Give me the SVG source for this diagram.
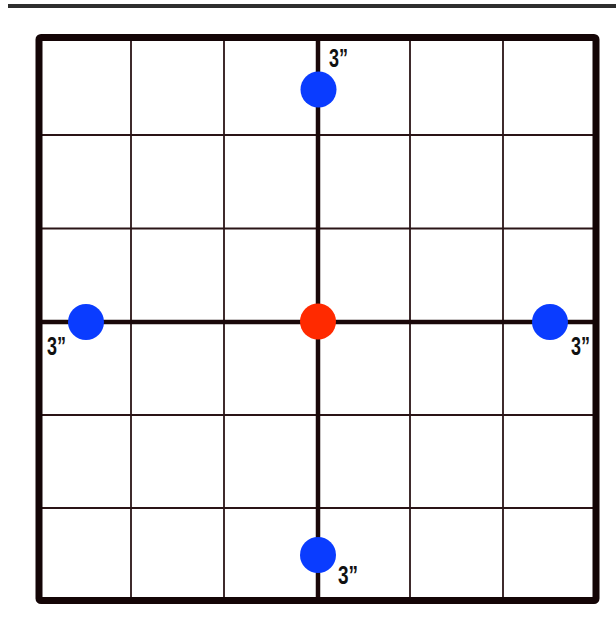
<svg xmlns="http://www.w3.org/2000/svg" width="616" height="631" viewBox="0 0 616 631">
<style>
.grid{stroke:#2a1416;stroke-width:1.8;fill:none}
.axis{stroke:#1a0809;stroke-width:4.5;fill:none}
.frame{stroke:#140506;stroke-width:7;fill:none;stroke-linejoin:round}
.blue{fill:#0a3cff}
.red{fill:#ff2a00}
.lbl{font-family:"Liberation Sans",Arial,sans-serif;font-weight:bold;font-size:26px;fill:#111}
</style>
<rect x="0" y="0" width="616" height="631" fill="#ffffff"/>
<rect x="8" y="4" width="608" height="4" fill="#2e2e2e"/>
<g id="grid">
<line class="grid" x1="131" y1="38" x2="131" y2="600"/>
<line class="grid" x1="224" y1="38" x2="224" y2="600"/>
<line class="grid" x1="410" y1="38" x2="410" y2="600"/>
<line class="grid" x1="503" y1="38" x2="503" y2="600"/>
<line class="grid" x1="39" y1="135" x2="596" y2="135"/>
<line class="grid" x1="39" y1="228.5" x2="596" y2="228.5"/>
<line class="grid" x1="39" y1="415" x2="596" y2="415"/>
<line class="grid" x1="39" y1="508" x2="596" y2="508"/>
</g>
<g id="connectors">
<line class="axis" x1="318" y1="38" x2="318" y2="600"/>
<line class="axis" x1="39" y1="322" x2="596" y2="322"/>
</g>
<g id="frame">
<rect class="frame" x="39" y="37.5" width="557" height="563" rx="2"/>
</g>
<g id="top">
<circle class="blue" cx="318.5" cy="89.5" r="18"/>
<text class="lbl" x="329" y="67" textLength="19" lengthAdjust="spacingAndGlyphs">3”</text>
</g>
<g id="left">
<circle class="blue" cx="86" cy="322" r="18"/>
<text class="lbl" x="47" y="355" textLength="19" lengthAdjust="spacingAndGlyphs">3”</text>
</g>
<g id="right">
<circle class="blue" cx="550" cy="322" r="18"/>
<text class="lbl" x="571" y="355" textLength="19" lengthAdjust="spacingAndGlyphs">3”</text>
</g>
<g id="bottom">
<circle class="blue" cx="318" cy="555" r="18"/>
<text class="lbl" x="338" y="584" textLength="20" lengthAdjust="spacingAndGlyphs">3”</text>
</g>
<g id="center">
<circle class="red" cx="318" cy="321.5" r="18"/>
</g>
</svg>
